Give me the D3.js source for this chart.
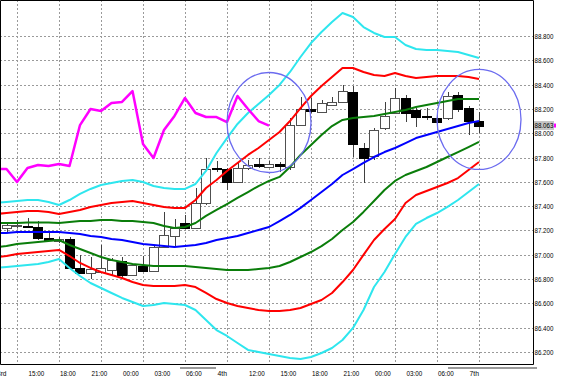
<!DOCTYPE html>
<meta charset="utf-8">
<head>
<style>
  body { margin:0; background:#fff; }
  svg { display:block; }
</style>
</head>
<script src="https://d3js.org/d3.v7.min.js"></script>
<div id="chart"></div>
<script>

// hourly bars, index 0 is the bar cut off at the left edge, last one is bar 46
var opens = [87.236, 87.220, 87.236, 87.240, 87.228, 87.137, 87.113, 87.129, 86.891, 86.849,
  86.858, 86.874, 86.948, 86.833, 86.907, 86.866, 87.063, 87.154, 87.261, 87.220,
  87.426, 87.714, 87.705, 87.598, 87.714, 87.746, 87.722, 87.746, 87.722, 88.067,
  88.199, 88.174, 88.232, 88.257, 88.339, 87.878, 87.812, 88.043, 88.166, 88.290,
  88.191, 88.142, 88.125, 88.125, 88.314, 88.207, 88.100];
var highs = [87.270, 87.261, 87.286, 87.302, 87.277, 87.187, 87.146, 87.146, 86.998, 86.981,
  87.080, 86.973, 86.981, 86.923, 86.989, 87.071, 87.352, 87.294, 87.327, 87.549,
  87.796, 87.771, 87.714, 87.755, 87.779, 87.796, 87.771, 87.763, 88.125, 88.298,
  88.290, 88.273, 88.298, 88.397, 88.388, 87.919, 88.043, 88.257, 88.372, 88.314,
  88.207, 88.207, 88.166, 88.339, 88.339, 88.224, 88.174];
var lows = [87.212, 87.187, 87.220, 87.220, 87.121, 87.113, 87.096, 86.882, 86.841, 86.800,
  86.849, 86.825, 86.808, 86.825, 86.858, 86.858, 87.055, 87.063, 87.212, 87.212,
  87.409, 87.681, 87.533, 87.590, 87.697, 87.714, 87.714, 87.681, 87.697, 88.059,
  88.166, 88.166, 88.224, 88.249, 87.804, 87.590, 87.779, 88.026, 88.158, 88.092,
  88.051, 88.109, 88.067, 88.109, 88.174, 87.985, 88.002];
var closes = [87.240, 87.244, 87.244, 87.228, 87.137, 87.121, 87.129, 86.891, 86.849, 86.882,
  86.891, 86.956, 86.833, 86.915, 86.866, 87.063, 87.162, 87.220, 87.220, 87.426,
  87.705, 87.705, 87.598, 87.714, 87.738, 87.730, 87.746, 87.730, 88.067, 88.199,
  88.183, 88.249, 88.257, 88.347, 87.911, 87.796, 88.026, 88.142, 88.290, 88.166,
  88.133, 88.133, 88.092, 88.306, 88.199, 88.100, 88.063];

// bollinger bands (+-1, 2, 3 sigma) and middle line, one value per bar
var cyanUp = [87.426, 87.434, 87.442, 87.450, 87.450, 87.434, 87.409, 87.450, 87.500, 87.541,
  87.574, 87.590, 87.607, 87.615, 87.598, 87.565, 87.549, 87.541, 87.541, 87.582,
  87.689, 87.837, 87.960, 88.076, 88.166, 88.240, 88.314, 88.397, 88.504, 88.627,
  88.742, 88.833, 88.915, 88.989, 88.956, 88.874, 88.825, 88.792, 88.792, 88.726,
  88.693, 88.685, 88.685, 88.677, 88.668, 88.644, 88.619];
var redUp = [87.335, 87.343, 87.352, 87.360, 87.360, 87.352, 87.335, 87.352, 87.368, 87.393,
  87.409, 87.426, 87.434, 87.442, 87.426, 87.409, 87.393, 87.385, 87.385, 87.450,
  87.549, 87.615, 87.689, 87.755, 87.821, 87.878, 87.944, 88.010, 88.100, 88.207,
  88.306, 88.388, 88.463, 88.537, 88.537, 88.504, 88.479, 88.471, 88.496, 88.471,
  88.454, 88.463, 88.471, 88.471, 88.471, 88.463, 88.446];
var greenUp = [87.261, 87.261, 87.261, 87.265, 87.265, 87.265, 87.261, 87.269, 87.277, 87.277,
  87.286, 87.286, 87.277, 87.277, 87.269, 87.261, 87.236, 87.220, 87.228, 87.261,
  87.319, 87.368, 87.417, 87.467, 87.516, 87.565, 87.607, 87.640, 87.722, 87.821,
  87.903, 87.985, 88.059, 88.109, 88.125, 88.133, 88.142, 88.158, 88.174, 88.191,
  88.216, 88.232, 88.249, 88.265, 88.281, 88.281, 88.281];
var midLine = [87.179, 87.179, 87.187, 87.187, 87.187, 87.187, 87.187, 87.179, 87.170, 87.154,
  87.146, 87.129, 87.121, 87.104, 87.088, 87.080, 87.071, 87.063, 87.071, 87.080,
  87.096, 87.121, 87.137, 87.154, 87.179, 87.203, 87.228, 87.277, 87.327, 87.385,
  87.450, 87.516, 87.582, 87.656, 87.705, 87.755, 87.804, 87.845, 87.878, 87.919,
  87.960, 87.985, 88.010, 88.035, 88.059, 88.084, 88.100];
var greenLo = [87.063, 87.071, 87.088, 87.096, 87.104, 87.113, 87.121, 87.080, 87.047, 87.014,
  86.981, 86.956, 86.940, 86.923, 86.915, 86.907, 86.907, 86.907, 86.907, 86.899,
  86.891, 86.882, 86.874, 86.874, 86.874, 86.882, 86.891, 86.907, 86.940, 86.981,
  87.022, 87.071, 87.129, 87.203, 87.269, 87.352, 87.442, 87.533, 87.607, 87.656,
  87.689, 87.722, 87.763, 87.804, 87.845, 87.886, 87.928];
var redLo = [86.981, 86.989, 87.006, 87.014, 87.022, 87.030, 87.039, 86.989, 86.932, 86.891,
  86.858, 86.833, 86.808, 86.775, 86.751, 86.742, 86.742, 86.742, 86.751, 86.734,
  86.685, 86.635, 86.602, 86.578, 86.561, 86.545, 86.537, 86.537, 86.545, 86.561,
  86.594, 86.627, 86.685, 86.775, 86.874, 86.998, 87.121, 87.212, 87.294, 87.426,
  87.491, 87.524, 87.557, 87.590, 87.631, 87.697, 87.763];
var cyanLo = [86.891, 86.899, 86.907, 86.915, 86.923, 86.940, 86.965, 86.891, 86.825, 86.767,
  86.726, 86.685, 86.644, 86.611, 86.578, 86.586, 86.602, 86.594, 86.586, 86.545,
  86.463, 86.380, 86.331, 86.273, 86.216, 86.199, 86.183, 86.166, 86.150, 86.142,
  86.158, 86.191, 86.232, 86.298, 86.397, 86.545, 86.734, 86.858, 87.006, 87.146,
  87.253, 87.302, 87.343, 87.393, 87.450, 87.516, 87.582];

// lagging span: close shifted back 20 bars
var lagShift = 20;

var timeLabels = ["3rd", "15:00", "18:00", "21:00", "00:00", "03:00", "06:00", "4th",
  "12:00", "15:00", "18:00", "21:00", "00:00", "03:00", "06:00", "7th"];
var labelBars = [0, 3, 6, 9, 12, 15, 18, 21, 24, 27, 30, 33, 36, 39, 42, 45];
var gridBars = [2, 6, 10, 14, 18, 22, 26, 30, 34, 38, 42, 46];
var priceTicks = [86.2, 86.4, 86.6, 86.8, 87.0, 87.2, 87.4, 87.6, 87.8, 88.0, 88.2, 88.4, 88.6, 88.8];
var lastPrice = 88.063;

// the two hand drawn circles (bar, price at centre)
var circleBars = [26, 46];
var circlePrices = [88.088, 88.113];


var width = 562, height = 378;
var plotRight = 533, plotBottom = 364;

var svg = d3.select("#chart")
  .append("svg")
    .attr("width", width)
    .attr("height", height)
    .style("background", "#fff");

var x = d3.scaleLinear().domain([0, 46]).range([-4, 479]);
var y = d3.scaleLinear().domain([86.2, 88.8]).range([351.9, 36]);

svg.append("defs").append("clipPath").attr("id", "plotclip")
  .append("rect").attr("x", 0).attr("y", 0).attr("width", plotRight).attr("height", plotBottom);

// grid
var grid = svg.append("g");
grid.selectAll(".hg")
  .data(priceTicks)
  .enter().append("line")
    .attr("x1", 0).attr("x2", plotRight)
    .attr("y1", function(d) { return Math.round(y(d)) + 0.5; })
    .attr("y2", function(d) { return Math.round(y(d)) + 0.5; })
    .attr("stroke", "#9a9a9a")
    .attr("stroke-dasharray", "2,2");
grid.selectAll(".vg")
  .data(gridBars)
  .enter().append("line")
    .attr("x1", function(d) { return Math.round(x(d)) + 0.5; })
    .attr("x2", function(d) { return Math.round(x(d)) + 0.5; })
    .attr("y1", 0).attr("y2", plotBottom)
    .attr("stroke", "#9a9a9a")
    .attr("stroke-dasharray", "2,2");

var plot = svg.append("g").attr("clip-path", "url(#plotclip)");

// candles
var bars = d3.range(opens.length);
var candle = plot.selectAll(".candle")
  .data(bars)
  .enter().append("g");

candle.append("line")
  .attr("x1", function(i) { return Math.round(x(i)) + 0.5; })
  .attr("x2", function(i) { return Math.round(x(i)) + 0.5; })
  .attr("y1", function(i) { return Math.round(y(highs[i])); })
  .attr("y2", function(i) { return Math.round(y(lows[i])); })
  .attr("stroke", "#404040");

candle.append("rect")
  .attr("x", function(i) { return Math.round(x(i)) - 4.5; })
  .attr("width", 9)
  .attr("y", function(i) { return Math.round(y(Math.max(opens[i], closes[i]))) + 0.5; })
  .attr("height", function(i) {
    return Math.max(1, Math.round(y(Math.min(opens[i], closes[i]))) - Math.round(y(Math.max(opens[i], closes[i]))));
  })
  .attr("fill", function(i) { return closes[i] < opens[i] ? "#000" : "#fff"; })
  .attr("stroke", function(i) { return closes[i] < opens[i] ? "#000" : "#505050"; });

// indicator lines
var line = d3.line()
  .x(function(d, i) { return x(i); })
  .y(function(d) { return y(d); });

var series = [
  {values: cyanUp, color: "#2ee6ee", w: 2},
  {values: cyanLo, color: "#2ee6ee", w: 2},
  {values: redUp, color: "#f00", w: 2},
  {values: redLo, color: "#f00", w: 2},
  {values: greenUp, color: "#0a7d0a", w: 2},
  {values: greenLo, color: "#0a7d0a", w: 2},
  {values: midLine, color: "#00f", w: 2},
  {values: closes.slice(lagShift), color: "#ff00ff", w: 2.5}
];

plot.selectAll(".ind")
  .data(series)
  .enter().append("path")
    .attr("d", function(d) { return line(d.values); })
    .attr("fill", "none")
    .attr("stroke", function(d) { return d.color; })
    .attr("stroke-width", function(d) { return d.w; })
    .attr("stroke-linejoin", "round");

// circles
plot.selectAll(".ring")
  .data(circleBars)
  .enter().append("ellipse")
    .attr("cx", function(d) { return x(d); })
    .attr("cy", function(d, i) { return y(circlePrices[i]); })
    .attr("rx", 42)
    .attr("ry", 50)
    .attr("fill", "none")
    .attr("stroke", "#6b6bef")
    .attr("stroke-width", 1.3);

// frame
svg.append("path")
  .attr("d", "M0.5,0.5H" + (plotRight + 0.5) + "V" + (plotBottom + 0.5) + "H0.5Z")
  .attr("fill", "none")
  .attr("stroke", "#000");

// price axis
var yAxis = svg.append("g")
  .attr("transform", "translate(" + plotRight + ",0)")
  .call(d3.axisRight(y).tickValues(priceTicks).tickFormat(d3.format(".3f")).tickSize(0).tickPadding(1.5));
yAxis.select(".domain").remove();

// current price box
var py = y(lastPrice);
svg.append("rect")
  .attr("x", plotRight + 1).attr("y", py - 4.5)
  .attr("width", 20).attr("height", 9)
  .attr("fill", "#c4c4c4");
svg.append("rect")
  .attr("x", plotRight + 21).attr("y", py - 2)
  .attr("width", 2).attr("height", 4)
  .attr("fill", "#ff00ff");
svg.append("text")
  .attr("class", "ptxt")
  .attr("x", plotRight + 1.5).attr("y", py)
  .attr("dy", "0.32em")
  .text(d3.format(".3f")(lastPrice));

// time axis
var xAxis = svg.append("g")
  .attr("transform", "translate(0," + plotBottom + ")")
  .call(d3.axisBottom(x).tickValues(labelBars)
    .tickFormat(function(d, i) { return timeLabels[i]; })
    .tickSize(0));
xAxis.select(".domain").remove();
xAxis.selectAll("text")
  .attr("text-anchor", "start")
  .attr("x", 0.5)
  .attr("y", 6)
  .attr("dy", "0.71em");

// grey bars under the time scale
svg.append("rect").attr("x", 180).attr("y", 367).attr("width", 36).attr("height", 2).attr("fill", "#9a9a9a");
svg.append("rect").attr("x", 448).attr("y", 367).attr("width", 89).attr("height", 2).attr("fill", "#9a9a9a");

svg.selectAll("text")
  .attr("font-family", "'Liberation Sans', Arial, sans-serif")
  .attr("font-size", 8)
  .attr("fill", "#000")
  .attr("textLength", function() { return this.textContent.length * 3.15; })
  .attr("lengthAdjust", "spacingAndGlyphs");
svg.selectAll(".tick text, .ptxt").attr("font-family", "'Liberation Sans', Arial, sans-serif").attr("font-size", 8);

</script>
